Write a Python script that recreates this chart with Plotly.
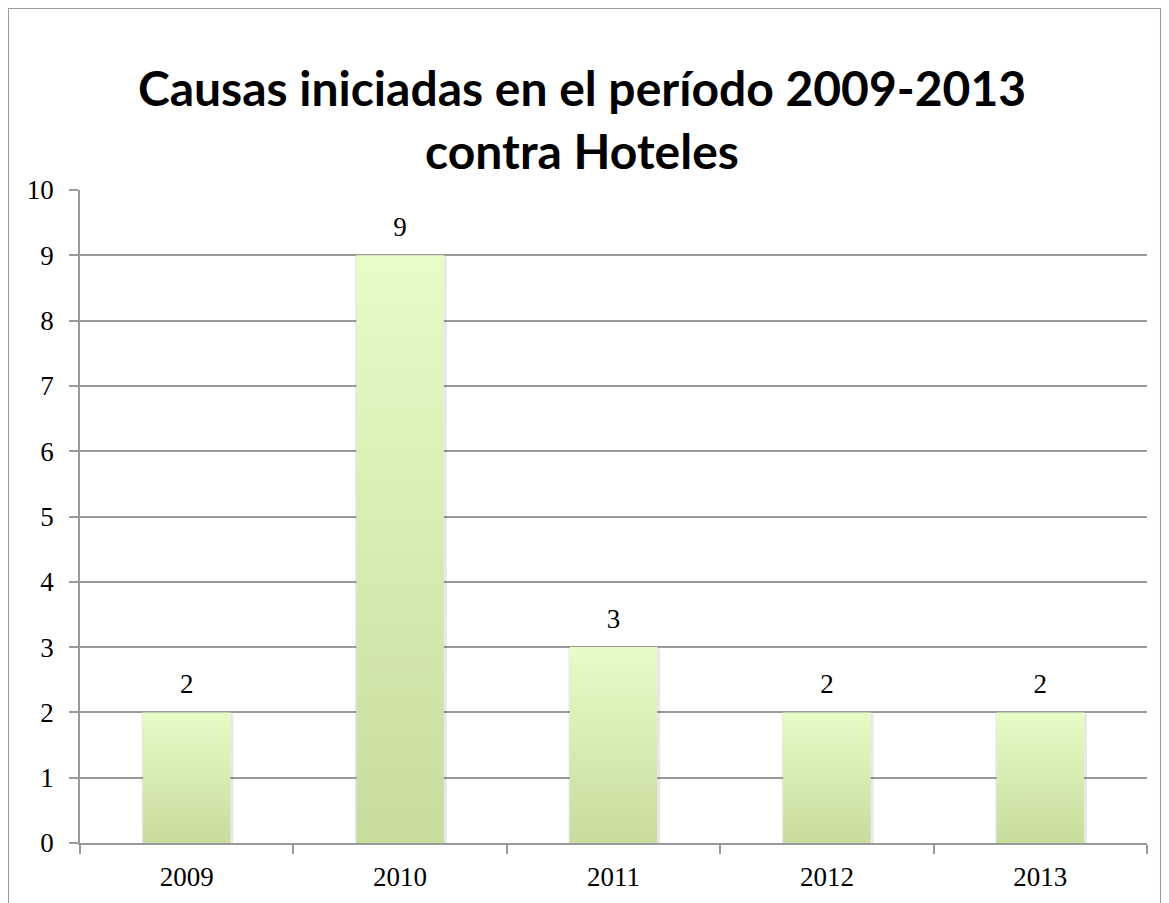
import plotly.graph_objects as go

# data
years = ["2009", "2010", "2011", "2012", "2013"]
causas = [2, 9, 3, 2, 2]

titulo = "Causas iniciadas en el período 2009-2013<br>contra Hoteles"

bar_w = 0.41
half = bar_w / 2
grid_col = "#9a9a9a"
serif = "Liberation Serif"

fig = go.Figure()

# soft shadow behind each bar
for i, v in enumerate(causas):
    fig.add_trace(go.Scatter(
        x=[i - half - 0.006, i + half + 0.014, i + half + 0.014, i - half - 0.006, i - half - 0.006],
        y=[-0.04, -0.04, v - 0.02, v - 0.02, -0.04],
        fill="toself", mode="lines", fillcolor="rgba(0,0,0,0.09)",
        line=dict(width=0, color="rgba(0,0,0,0)"), hoverinfo="skip", showlegend=False))

# bars with vertical gradient, one trace each so every bar gets its own gradient
for i, v in enumerate(causas):
    fig.add_trace(go.Scatter(
        x=[i - half, i + half, i + half, i - half, i - half],
        y=[0, 0, v, v, 0],
        fill="toself", mode="lines",
        fillgradient=dict(type="vertical", colorscale=[[0, "#c8dc9e"], [1, "#e7fcc6"]]),
        line=dict(width=0, color="rgba(0,0,0,0)"),
        name=years[i], showlegend=False))

# data labels (invisible marker pushes the text up a bit)
fig.add_trace(go.Scatter(
    x=list(range(len(years))), y=causas, mode="markers+text",
    marker=dict(size=18, color="rgba(0,0,0,0)"),
    text=[str(v) for v in causas], textposition="top center",
    textfont=dict(family=serif, size=27, color="#000000"),
    showlegend=False, hoverinfo="skip"))

fig.update_layout(
    width=1169, height=903,
    margin=dict(l=72, r=30, t=182, b=68),
    paper_bgcolor="white", plot_bgcolor="white",
    title=dict(text=titulo, x=0.491, xanchor="center", y=0.891, yanchor="middle",
               font=dict(family="Lato", size=48, color="#000000", weight="bold")),
    showlegend=False,
)

fig.update_xaxes(
    range=[-0.5, len(years) - 0.5],
    tickvals=list(range(len(years))), ticktext=years,
    ticks="", showgrid=False, zeroline=False,
    showline=True, linecolor=grid_col, linewidth=2,
    tickfont=dict(family=serif, size=27, color="#000000"),
    ticklabelstandoff=9,
    minor=dict(tickvals=[i - 0.5 for i in range(len(years) + 1)], ticks="outside",
               ticklen=9, tickwidth=1.5, tickcolor=grid_col, showgrid=False),
)

fig.update_yaxes(
    range=[0, 10], dtick=1, tick0=0,
    showgrid=True, gridcolor=grid_col, gridwidth=1.5,
    zeroline=False, showline=True, linecolor=grid_col, linewidth=1.5,
    ticks="outside", ticklen=9, tickwidth=1.5, tickcolor=grid_col,
    tickfont=dict(family=serif, size=27, color="#000000"),
    ticklabelstandoff=10,
)

# outer chart frame
fig.add_shape(type="rect", xref="paper", yref="paper",
              x0=-0.0675, x1=1.0131, y0=-0.2, y1=1.2787,
              line=dict(color="#9a9a9a", width=2), layer="below")

fig.write_html("out.html")
